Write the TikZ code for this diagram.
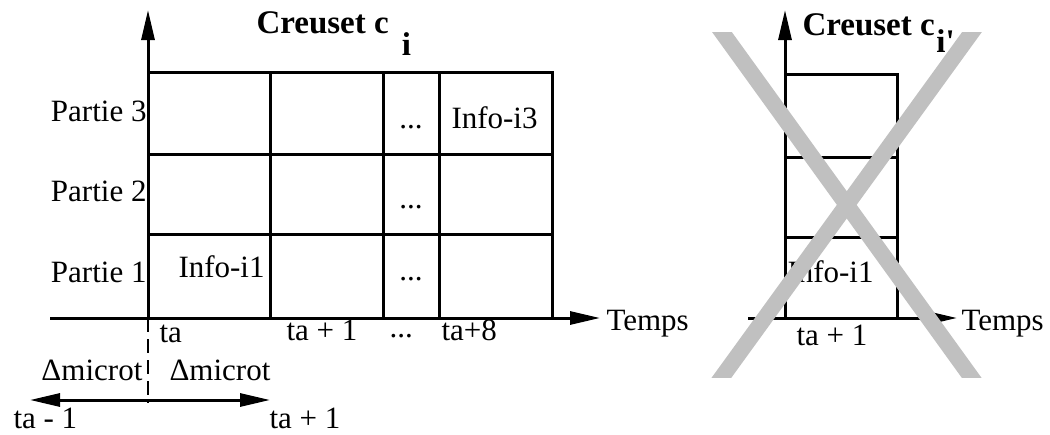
\documentclass[tikz,border=0pt]{standalone}
\usepackage{fontspec}
\setmainfont{Liberation Serif}
\usetikzlibrary{arrows.meta}
\definecolor{crossgray}{RGB}{192,192,192}

\begin{document}
\begin{tikzpicture}[x=1pt, y=-1pt, line width=3pt,
  >={Triangle[length=30pt,width=13pt]},
  lbl/.style={font=\fontsize{31}{36}\selectfont, inner sep=0pt},
  ttl/.style={font=\fontsize{33}{38}\selectfont\bfseries, inner sep=0pt},
  cross/.style={line width=16pt, crossgray}]
  \useasboundingbox (0,0) rectangle (1050,434);

  % Axes (creuset c_i)
  \coordinate (O) at (148,318);
  \coordinate (ytop) at (148,10);
  \coordinate (xleft) at (50,318);
  \coordinate (xtip) at (600,318);
  \draw[->] (O) -- (ytop);
  \draw[->] (xleft) -- (xtip);
  \node[lbl, anchor=base west] (temps) at (605,330) {Temps};
  \node[ttl, anchor=base west] (titre) at (255,33) {Creuset c\hspace{0.4em}\raisebox{-22pt}{i}};

  % Grid
  \foreach \y in {72,154,234}
    \draw (148,\y) -- (553.5,\y);
  \foreach \x in {270,383,439,552}
    \draw (\x,72) -- (\x,318);

  % Parts
  \node[lbl, anchor=base east] (p3) at (148,121) {Partie 3};
  \node[lbl, anchor=base east] (p2) at (148,201) {Partie 2};
  \node[lbl, anchor=base east] (p1) at (148,282) {Partie 1};

  % Cells
  \node[lbl, anchor=base] (d3) at (411,128) {...};
  \node[lbl, anchor=base] (d2) at (411,208) {...};
  \node[lbl, anchor=base] (d1) at (411,280) {...};
  \node[lbl, anchor=base west] (info3) at (450,128) {Info-i3};
  \node[lbl, anchor=base west] (info1) at (177,277) {Info-i1};

  % Time labels
  \node[lbl, anchor=base west] (ta) at (158,342) {ta};
  \node[lbl, anchor=base west] (ta1) at (285,340) {ta + 1};
  \node[lbl, anchor=base west] (tdots) at (388,337) {...};
  \node[lbl, anchor=base west] (ta8) at (440,340) {ta+8};

  % Micro time step
  \coordinate (dbot) at (148,403);
  \draw[line width=2pt, dash pattern=on 14pt off 7pt] (O) -- (dbot);
  \coordinate (dl) at (30,400);
  \coordinate (dr) at (270,400);
  \draw[<->] (dl) -- (dr);
  \node[lbl, anchor=base west] (mleft) at (40,380) {Δmicrot};
  \node[lbl, anchor=base west] (mright) at (168,380) {Δmicrot};
  \node[lbl, anchor=base west] (tam) at (12,428) {ta - 1};
  \node[lbl, anchor=base west] (tap) at (268,428) {ta + 1};

  % Axes (creuset c_i')
  \coordinate (O2) at (785,318);
  \coordinate (ytop2) at (785,10);
  \coordinate (xleft2) at (748,318);
  \coordinate (xtip2) at (957,318);
  \draw[->] (O2) -- (ytop2);
  \draw[->] (xleft2) -- (xtip2);
  \node[lbl, anchor=base west] (temps2) at (960,330) {Temps};
  \foreach \y in {74,157,237}
    \draw (785,\y) -- (898.5,\y);
  \draw (897,74) -- (897,318);
  \node[lbl, anchor=base west] (info1b) at (786,282) {Info-i1};
  \node[lbl, anchor=base west] (ta1b) at (795,345) {ta + 1};

  % Cross
  \begin{scope}
    \clip (690,32) rectangle (1005,377);
    \draw[cross] (697,-2.5) -- (996,411.5);
    \draw[cross] (997,-2.5) -- (697,411.5);
  \end{scope}
  \node[ttl, anchor=base west] (titre2) at (801,35) {Creuset c\hspace{0.05em}\raisebox{-17pt}{i\textquotesingle}};
\end{tikzpicture}
\end{document}
